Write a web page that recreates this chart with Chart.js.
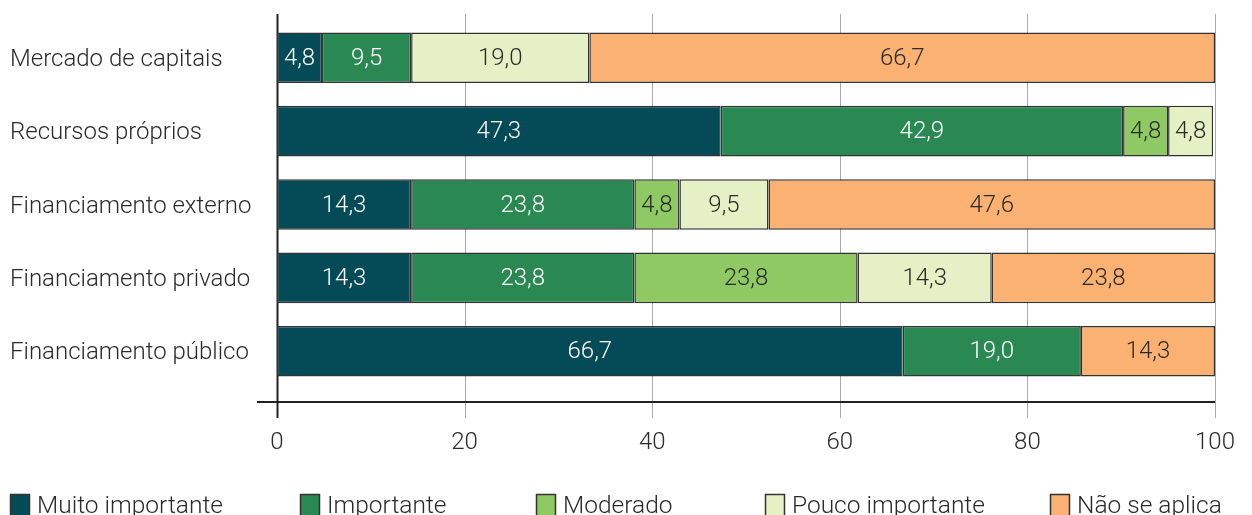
<!DOCTYPE html>
<html>
<head>
<meta charset="utf-8">
<script src="https://cdn.jsdelivr.net/npm/chart.js@4.4.1/dist/chart.umd.min.js"></script>
<style>
  html, body { margin: 0; padding: 0; background: #fff; }
  #wrap { width: 1252px; height: 515px; position: relative; }
</style>
</head>
<body>
<div id="wrap"><canvas id="chart" width="1252" height="515"></canvas></div>
<script>
// Categories and series
const categories = [
  'Mercado de capitais',
  'Recursos próprios',
  'Financiamento externo',
  'Financiamento privado',
  'Financiamento público'
];
const seriesNames = ['Muito importante', 'Importante', 'Moderado', 'Pouco importante', 'Não se aplica'];
const muitoImportante = [4.8, 47.3, 14.3, 14.3, 66.7];
const importante      = [9.5, 42.9, 23.8, 23.8, 19.0];
const moderado        = [null, 4.8, 4.8, 23.8, null];
const poucoImportante = [19.0, 4.8, 9.5, 14.3, null];
const naoSeAplica     = [66.7, null, 47.6, 23.8, 14.3];
const xTicks = [0, 20, 40, 60, 80, 100];

const colors = ['#044b57', '#2a8853', '#8fc963', '#e5f0c5', '#fbb172'];
const labelColors = ['#ffffff', '#ffffff', '#2a2a2a', '#2a2a2a', '#2a2a2a'];
const seriesValues = [muitoImportante, importante, moderado, poucoImportante, naoSeAplica];

const FONT = 'Roboto';
const FONT_WEIGHT = '300';
const FONT_SIZE = 24;
const TEXT_COLOR = '#2a2a2a';

const datasets = seriesValues.map((vals, i) => ({
  label: seriesNames[i],
  data: vals,
  backgroundColor: colors[i],
  borderColor: '#333333',
  borderWidth: 1.5,
  borderSkipped: false,
  barPercentage: 0.69,
  categoryPercentage: 1.0
}));

// Vertical grid lines, zero line and the horizontal axis line
const gridPlugin = {
  id: 'grid',
  beforeDatasetsDraw(chart) {
    const ctx = chart.ctx;
    const x = chart.scales.x;
    const top = 14, bottom = 418, axisY = 402;
    ctx.save();
    xTicks.forEach(v => {
      const px = Math.round(x.getPixelForValue(v)) + 0.5;
      ctx.beginPath();
      ctx.moveTo(px, top);
      ctx.lineTo(px, bottom);
      ctx.strokeStyle = v === 0 ? '#222222' : '#a8a8a8';
      ctx.lineWidth = v === 0 ? 2 : 1;
      ctx.stroke();
    });
    ctx.beginPath();
    ctx.moveTo(x.getPixelForValue(0) - 20, axisY);
    ctx.lineTo(x.getPixelForValue(100), axisY);
    ctx.strokeStyle = '#222222';
    ctx.lineWidth = 2;
    ctx.stroke();
    ctx.restore();
  }
};

// Value labels centred in every segment
const valueLabels = {
  id: 'valueLabels',
  afterDatasetsDraw(chart) {
    const ctx = chart.ctx;
    ctx.save();
    ctx.font = `${FONT_WEIGHT} ${FONT_SIZE}px ${FONT}`;
    ctx.textAlign = 'center';
    ctx.textBaseline = 'middle';
    chart.data.datasets.forEach((ds, di) => {
      const meta = chart.getDatasetMeta(di);
      meta.data.forEach((bar, i) => {
        const v = ds.data[i];
        if (v === null || v === undefined) return;
        const cx = (bar.x + bar.base) / 2;
        ctx.fillStyle = labelColors[di];
        ctx.fillText(v.toFixed(1).replace('.', ','), cx, bar.y + 1);
      });
    });
    ctx.restore();
  }
};

// Legend row along the bottom edge
const legendXs = [10, 300, 536, 765, 1050];
const bottomLegend = {
  id: 'bottomLegend',
  afterDraw(chart) {
    const ctx = chart.ctx;
    ctx.save();
    ctx.font = `${FONT_WEIGHT} 24.5px ${FONT}`;
    ctx.textBaseline = 'alphabetic';
    ctx.textAlign = 'left';
    seriesNames.forEach((name, i) => {
      const x0 = legendXs[i];
      ctx.fillStyle = colors[i];
      ctx.fillRect(x0 + 0.5, 494.5, 19, 24);
      ctx.strokeStyle = '#333333';
      ctx.lineWidth = 1.5;
      ctx.strokeRect(x0 + 0.5, 494.5, 19, 24);
      ctx.fillStyle = TEXT_COLOR;
      ctx.fillText(name, x0 + 27, 513);
    });
    ctx.restore();
  }
};

new Chart(document.getElementById('chart'), {
  type: 'bar',
  data: { labels: categories, datasets },
  options: {
    indexAxis: 'y',
    responsive: false,
    animation: false,
    layout: { padding: { left: 10, right: 37, top: 21, bottom: 0 } },
    plugins: { legend: { display: false }, tooltip: { enabled: false } },
    scales: {
      x: {
        stacked: true,
        min: 0,
        max: 100,
        border: { display: false },
        grid: { display: false, drawTicks: false },
        afterBuildTicks(scale) { scale.ticks = xTicks.map(v => ({ value: v })); },
        afterFit(scale) {
          scale.height = 127;
          scale.paddingLeft = 0;
          scale.paddingRight = 0;
        },
        ticks: {
          padding: 41,
          color: TEXT_COLOR,
          font: { family: FONT, size: FONT_SIZE, weight: FONT_WEIGHT },
          maxRotation: 0
        }
      },
      y: {
        stacked: true,
        border: { display: false },
        grid: { display: false, drawTicks: false },
        afterFit(scale) { scale.width = 267; },
        ticks: {
          crossAlign: 'far',
          padding: 0,
          labelOffset: 2,
          color: TEXT_COLOR,
          font: { family: FONT, size: FONT_SIZE, weight: FONT_WEIGHT }
        }
      }
    }
  },
  plugins: [gridPlugin, valueLabels, bottomLegend]
});
</script>
</body>
</html>
